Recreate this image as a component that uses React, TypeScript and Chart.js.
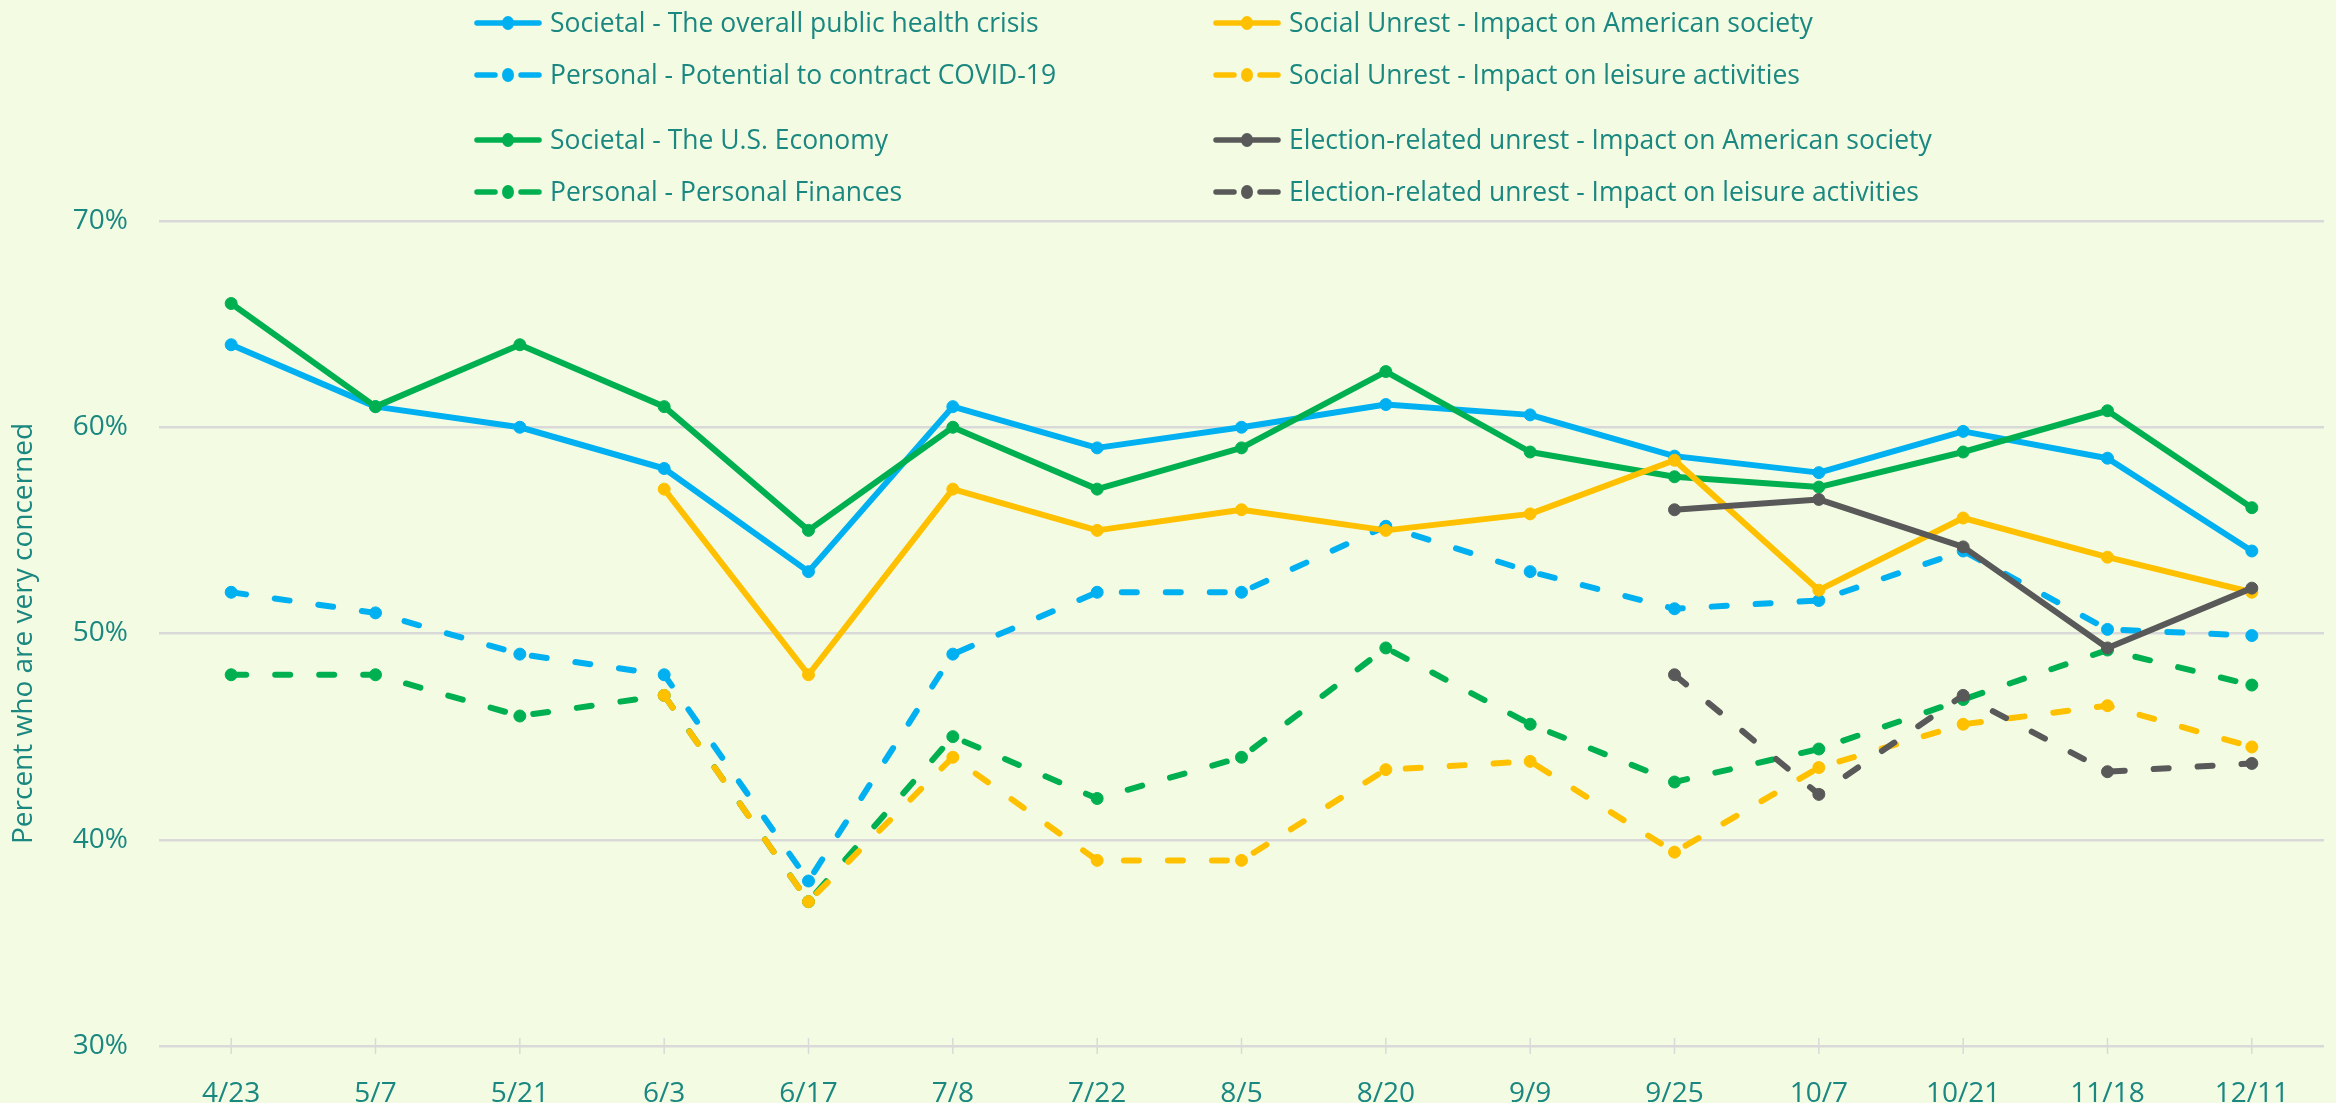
import React, { useEffect, useRef } from 'react';
import { Chart, registerables } from 'chart.js';

Chart.register(...registerables);

const categories = ['4/23', '5/7', '5/21', '6/3', '6/17', '7/8', '7/22', '8/5', '8/20', '9/9', '9/25', '10/7', '10/21', '11/18', '12/11'];

const societalHealth = [64, 61, 60, 58, 53, 61, 59, 60, 61.1, 60.6, 58.6, 57.8, 59.8, 58.5, 54];
const personalCovid = [52, 51, 49, 48, 38, 49, 52, 52, 55.2, 53, 51.2, 51.6, 54, 50.2, 49.9];
const societalEconomy = [66, 61, 64, 61, 55, 60, 57, 59, 62.7, 58.8, 57.6, 57.1, 58.8, 60.8, 56.1];
const personalFinances = [48, 48, 46, 47, 37, 45, 42, 44, 49.3, 45.6, 42.8, 44.4, 46.8, 49.2, 47.5];
const unrestSociety = [null, null, null, 57, 48, 57, 55, 56, 55, 55.8, 58.4, 52.1, 55.6, 53.7, 52];
const unrestLeisure = [null, null, null, 47, 37, 44, 39, 39, 43.4, 43.8, 39.4, 43.5, 45.6, 46.5, 44.5];
const electionSociety = [null, null, null, null, null, null, null, null, null, null, 56, 56.5, 54.2, 49.3, 52.2];
const electionLeisure = [null, null, null, null, null, null, null, null, null, null, 48, 42.2, 47, 43.3, 43.7];

const seriesLabels = [
  'Societal - The overall public health crisis',
  'Personal - Potential to contract COVID-19',
  'Societal - The U.S. Economy',
  'Personal - Personal Finances',
  'Social Unrest - Impact on American society',
  'Social Unrest - Impact on leisure activities',
  'Election-related unrest - Impact on American society',
  'Election-related unrest - Impact on leisure activities',
];
const seriesValues = [
  societalHealth, personalCovid, societalEconomy, personalFinances,
  unrestSociety, unrestLeisure, electionSociety, electionLeisure,
];
const seriesColors = ['#00B0F0', '#00B0F0', '#00B050', '#00B050', '#FFC000', '#FFC000', '#595959', '#595959'];
const seriesDashed = [false, true, false, true, false, true, false, true];

const yTickValues = [30, 40, 50, 60, 70];
const yAxisTitle = 'Percent who are very concerned';

const TEXT = '#1A8780';
const BG = '#F3FCE3';
const GRID = '#D9D9D9';
const LEGEND_FONT = "28px 'Open Sans', sans-serif";

const legendPlugin = {
  id: 'customLegend',
  afterDraw(chart: any) {
    const ctx = chart.ctx;
    const rowsY = [23, 75, 140, 192];
    const colsX = [474, 1213];
    ctx.save();
    chart.data.datasets.forEach((ds: any, i: number) => {
      const col = Math.floor(i / 4);
      const row = i % 4;
      const x0 = colsX[col];
      const y = rowsY[row];
      const len = 68;
      ctx.strokeStyle = ds.borderColor;
      ctx.lineWidth = 5.5;
      ctx.lineCap = 'round';
      ctx.setLineDash([]);
      ctx.beginPath();
      if (ds.borderDash && ds.borderDash.length) {
        ctx.moveTo(x0 + 3, y);
        ctx.lineTo(x0 + 21, y);
        ctx.moveTo(x0 + len - 21, y);
        ctx.lineTo(x0 + len - 3, y);
      } else {
        ctx.moveTo(x0 + 3, y);
        ctx.lineTo(x0 + len - 3, y);
      }
      ctx.stroke();
      ctx.fillStyle = ds.borderColor;
      ctx.beginPath();
      ctx.ellipse(x0 + len / 2, y, 6, 7, 0, 0, Math.PI * 2);
      ctx.fill();
      ctx.fillStyle = TEXT;
      ctx.font = LEGEND_FONT;
      ctx.textAlign = 'left';
      ctx.textBaseline = 'middle';
      ctx.save();
      ctx.translate(x0 + len + 8, y + 1);
      ctx.scale(0.945, 1);
      ctx.fillText(ds.label, 0, 0);
      ctx.restore();
    });
    ctx.restore();
  },
};

const crossTicksPlugin = {
  id: 'crossTicks',
  beforeDatasetsDraw(chart: any) {
    const ctx = chart.ctx;
    const xs = chart.scales.x;
    const b = chart.chartArea.bottom;
    ctx.save();
    ctx.strokeStyle = GRID;
    ctx.lineWidth = 1.5;
    for (let i = 0; i < chart.data.labels.length; i++) {
      const px = xs.getPixelForValue(i);
      ctx.beginPath();
      ctx.moveTo(px, b - 8);
      ctx.lineTo(px, b + 8);
      ctx.stroke();
    }
    ctx.restore();
  },
};

export default function App() {
  const canvasRef = useRef<HTMLCanvasElement | null>(null);

  useEffect(() => {
    document.body.style.margin = '0';
    document.body.style.background = BG;
    const canvas = canvasRef.current;
    if (!canvas) return;
    const chart = new Chart(canvas, {
      type: 'line',
      data: {
        labels: categories,
        datasets: seriesLabels.map((label, i) => ({
          label,
          data: seriesValues[i],
          borderColor: seriesColors[i],
          backgroundColor: seriesColors[i],
          pointBackgroundColor: seriesColors[i],
          pointBorderColor: seriesColors[i],
          pointBorderWidth: 1,
          pointRadius: 6,
          borderWidth: 6,
          borderDash: seriesDashed[i] ? [15, 29] : [],
          borderCapStyle: 'round',
          borderJoinStyle: 'round',
          tension: 0,
          fill: false,
          spanGaps: false,
          order: seriesLabels.length - i,
        })),
      },
      options: {
        responsive: false,
        animation: false,
        devicePixelRatio: 1,
        layout: { padding: { top: 221, right: 12, left: 0, bottom: 0 } },
        plugins: {
          legend: { display: false },
          tooltip: { enabled: false },
          title: { display: false },
        },
        scales: {
          x: {
            type: 'category',
            offset: true,
            grid: { display: false, offset: false },
            border: { display: false },
            ticks: {
              color: TEXT,
              font: { family: "'Open Sans', sans-serif", size: 28 },
              padding: 23,
              maxRotation: 0,
              autoSkip: false,
            },
            afterFit: (axis: any) => { axis.height = 57; },
          },
          y: {
            min: 30,
            max: 70,
            afterBuildTicks: (axis: any) => { axis.ticks = yTickValues.map((v) => ({ value: v })); },
            grid: { color: GRID, lineWidth: 2.5, drawTicks: false },
            border: { display: false },
            ticks: {
              color: TEXT,
              font: { family: "'Open Sans', sans-serif", size: 28 },
              padding: 31,
              callback: (v: any) => v + '%',
            },
            title: {
              display: true,
              text: yAxisTitle,
              color: TEXT,
              font: { family: "'Open Sans', sans-serif", size: 28 },
              padding: { top: 7, bottom: 0 },
            },
            afterFit: (axis: any) => { axis.width = 159; },
          },
        },
      },
      plugins: [legendPlugin, crossTicksPlugin],
    });
    return () => chart.destroy();
  }, []);

  return (
    <div style={{ width: 2336, height: 1103, background: BG, overflow: 'hidden' }}>
      <canvas ref={canvasRef} width={2336} height={1103} style={{ display: 'block' }} />
    </div>
  );
}
